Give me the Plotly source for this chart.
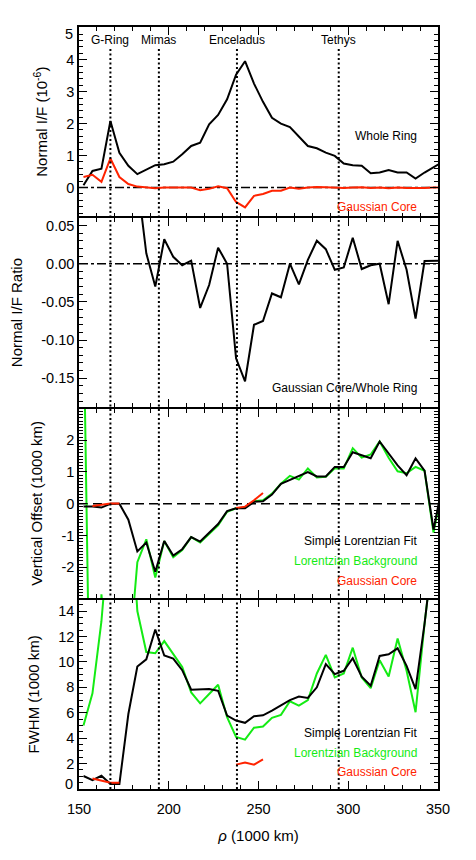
import plotly.graph_objects as go
from plotly.subplots import make_subplots

# radial distance (1000 km)
rho = [152.5, 157.5, 162.5, 167.5, 172.5, 177.5, 182.5, 187.5, 192.5, 197.5,
       202.5, 207.5, 212.5, 217.5, 222.5, 227.5, 232.5, 237.5, 242.5, 247.5,
       252.5, 257.5, 262.5, 267.5, 272.5, 277.5, 282.5, 287.5, 292.5, 297.5,
       302.5, 307.5, 312.5, 317.5, 322.5, 327.5, 332.5, 337.5, 342.5, 347.5,
       352.5]

# panel 1: normal I/F (1e-6)
whole_ring = [0.07, 0.52, 0.59, 2.08, 1.09, 0.68, 0.42, 0.57, 0.70, 0.73,
              0.81, 1.04, 1.30, 1.40, 1.98, 2.27, 2.76, 3.53, 3.95, 3.25,
              2.68, 2.18, 2.00, 1.89, 1.61, 1.30, 1.23, 1.09, 0.99, 0.75,
              0.70, 0.68, 0.45, 0.47, 0.55, 0.47, 0.47, 0.28, 0.47, 0.65,
              0.80]
gauss_core = [0.33, 0.40, 0.18, 0.91, 0.33, 0.11, 0.03, 0.00, -0.02, 0.00,
              0.00, 0.00, 0.00, -0.08, -0.04, 0.04, -0.02, -0.45, -0.62, -0.26,
              -0.20, -0.10, -0.10, 0.00, -0.04, 0.00, 0.02, 0.01, -0.01, -0.01,
              0.00, 0.01, -0.01, 0.00, -0.02, 0.00, -0.01, -0.02, -0.01, 0.00,
              0.00]

# panel 2: core / whole ring
ratio = [4.7, 0.77, 0.31, 0.44, 0.30, 0.16, 0.11, 0.0135, -0.030, 0.032,
         0.009, -0.002, 0.004, -0.058, -0.028, 0.021, 0.000, -0.124, -0.154, -0.080,
         -0.075, -0.039, -0.044, 0.000, -0.027, 0.005, 0.030, 0.019, -0.008, -0.005,
         0.034, -0.007, -0.002, 0.000, -0.053, 0.030, -0.008, -0.072, 0.0035, 0.004,
         0.004]

# panel 3: vertical offset (1000 km)
offset_simple = [-0.09, -0.09, -0.12, 0.00, 0.00, -0.50, -1.50, -1.22, -2.14, -1.17,
                 -1.63, -1.43, -1.05, -1.19, -0.91, -0.64, -0.23, -0.14, -0.14, 0.06,
                 0.08, 0.29, 0.63, 0.76, 0.88, 1.00, 0.86, 0.86, 1.16, 1.16,
                 1.62, 1.52, 1.43, 1.96, 1.57, 1.21, 0.90, 1.43, 1.04, -0.81,
                 0.60]
offset_bg = [6.0, -12.0, -2.85, -8.0, -10.0, -5.2, -1.84, -1.12, -2.32, -1.17,
             -1.68, -1.46, -1.05, -1.22, -0.94, -0.68, -0.25, -0.14, -0.12, 0.08,
             0.11, 0.32, 0.63, 0.88, 0.76, 1.11, 0.83, 0.85, 1.12, 1.11,
             1.75, 1.45, 1.55, 1.96, 1.45, 1.02, 0.96, 1.16, 1.04, -0.91,
             0.50]
offset_core = [None, -0.07, -0.04, 0.01, 0.01, None, None, None, None, None,
               None, None, None, None, None, None, None, -0.13, -0.09, 0.11,
               0.34, None, None, None, None, None, None, None, None, None,
               None, None, None, None, None, None, None, None, None, None,
               None]

# panel 4: FWHM (1000 km)
fwhm_simple = [1.02, 0.70, 1.04, 0.39, 0.39, 5.90, 9.64, 10.20, 12.55, 10.50,
               10.26, 9.35, 7.81, 7.81, 7.86, 7.73, 5.78, 5.39, 5.21, 5.72,
               5.80, 6.17, 6.56, 7.00, 7.27, 7.16, 8.00, 9.82, 9.04, 9.30,
               10.29, 8.83, 8.13, 10.47, 10.60, 11.07, 9.69, 7.86, 13.0, 19.0,
               25.0]
fwhm_bg = [5.00, 7.53, 13.2, 22.0, 30.0, 25.0, 14.0, 10.78, 10.68, 11.64,
           10.60, 9.60, 7.60, 6.74, 7.47, 8.20, 5.65, 4.09, 3.88, 4.82,
           4.92, 5.60, 5.83, 6.90, 6.56, 7.00, 9.09, 10.55, 8.78, 9.09,
           11.12, 8.78, 7.94, 10.13, 8.85, 11.85, 9.30, 6.04, 13.0, 19.0,
           25.0]
fwhm_core = [None, 0.82, 0.68, 0.50, 0.50, None, None, None, None, None,
             None, None, None, None, None, None, None, 1.92, 2.08, 1.92,
             2.33, None, None, None, None, None, None, None, None, None,
             None, None, None, None, None, None, None, None, None, None,
             None]

moon_names = ["G-Ring", "Mimas", "Enceladus", "Tethys"]
moon_rho = [167.5, 194.5, 238.0, 294.7]

BLACK = "black"
RED = "rgb(255,35,0)"
GREEN = "rgb(20,235,20)"
FONT = "Liberation Sans, Arial, Helvetica, sans-serif"
TICK = 14.5

fig = make_subplots(rows=4, cols=1, shared_xaxes=True, vertical_spacing=0.002)


def line(y, color, row):
    fig.add_trace(go.Scatter(x=rho, y=y, mode="lines", connectgaps=False,
                             line=dict(color=color, width=2), showlegend=False,
                             hoverinfo="skip"), row=row, col=1)


line(whole_ring, BLACK, 1)
line(gauss_core, RED, 1)
line(ratio, BLACK, 2)
line(offset_bg, GREEN, 3)
line(offset_simple, BLACK, 3)
line(offset_core, RED, 3)
line(fwhm_bg, GREEN, 4)
line(fwhm_simple, BLACK, 4)
line(fwhm_core, RED, 4)

common = dict(showline=True, linecolor="black", linewidth=1.5, mirror="allticks",
              ticks="inside", ticklen=8, tickwidth=1, tickcolor="black",
              showgrid=False, zeroline=False, automargin=False,
              tickfont=dict(family=FONT, size=TICK, color="black"))

for r in range(1, 5):
    fig.update_xaxes(range=[150, 350], tickvals=[150, 200, 250, 300, 350],
                     minor=dict(ticks="inside", ticklen=4, dtick=10, tick0=150,
                                tickcolor="black", showgrid=False),
                     row=r, col=1, **common)
fig.update_xaxes(showticklabels=True, ticklabelstandoff=6, row=4, col=1,
                 title=dict(text="<i>ρ</i> (1000 km)", font=dict(family=FONT, size=15, color="black"),
                            standoff=14))

title_font = dict(family=FONT, size=15, color="black")
fig.update_yaxes(range=[-0.9, 5.02], tickvals=[0, 1, 2, 3, 4],
                 minor=dict(ticks="inside", ticklen=4, dtick=0.2, tick0=0, tickcolor="black"),
                 title=dict(text="Normal I/F (10<sup>-6</sup>)", font=title_font),
                 row=1, col=1, **common)
fig.update_yaxes(range=[-0.188, 0.060], tickvals=[-0.15, -0.10, -0.05, 0.0, 0.05],
                 ticktext=["-0.15", "-0.10", "-0.05", "0.00", "0.05"],
                 minor=dict(ticks="inside", ticklen=4, dtick=0.01, tick0=0, tickcolor="black"),
                 title=dict(text="Normal I/F Ratio", font=title_font),
                 row=2, col=1, **common)
fig.update_yaxes(range=[-2.97, 2.99], tickvals=[-2, -1, 0, 1, 2],
                 ticktext=["-2", "-1", "0", "1", "2"],
                 minor=dict(ticks="inside", ticklen=4, dtick=0.1, tick0=0, tickcolor="black"),
                 title=dict(text="Vertical Offset (1000 km)", font=title_font),
                 row=3, col=1, **common)
fig.update_yaxes(range=[0, 14.9], tickvals=[2, 4, 6, 8, 10, 12, 14],
                 minor=dict(ticks="inside", ticklen=4, dtick=0.5, tick0=0, tickcolor="black"),
                 title=dict(text="FWHM (1000 km)", font=title_font),
                 row=4, col=1, **common)

shapes = []
for m in moon_rho:
    shapes.append(dict(type="line", xref="x", yref="paper", x0=m, x1=m, y0=0, y1=0.974,
                       line=dict(color="black", width=2, dash="2px,2.5px")))
shapes.append(dict(type="line", xref="x", yref="y", x0=150, x1=350, y0=0, y1=0,
                   line=dict(color="black", width=1.5, dash="dashdot"), layer="below"))
shapes.append(dict(type="line", xref="x", yref="y2", x0=150, x1=350, y0=0, y1=0,
                   line=dict(color="black", width=1.5, dash="dashdot"), layer="below"))
shapes.append(dict(type="line", xref="x", yref="y3", x0=150, x1=350, y0=0, y1=0,
                   line=dict(color="black", width=1.5, dash="9px,5px"), layer="below"))

ann = []
for name, m in zip(moon_names, moon_rho):
    ann.append(dict(text=name, x=m, xref="x", y=0.983, yref="paper", yanchor="middle",
                    showarrow=False, font=dict(family=FONT, size=12, color="black")))

labels = [("Whole Ring", BLACK, 0.857), ("Gaussian Core", RED, 0.764),
          ("Gaussian Core/Whole Ring", BLACK, 0.526),
          ("Simple Lorentzian Fit", BLACK, 0.325), ("Lorentzian Background", GREEN, 0.299),
          ("Gaussian Core", RED, 0.273),
          ("Simple Lorentzian Fit", BLACK, 0.073), ("Lorentzian Background", GREEN, 0.047),
          ("Gaussian Core", RED, 0.022)]
for text, color, yy in labels:
    ann.append(dict(text=text, x=0.947, xref="paper", xanchor="right", y=yy, yref="paper",
                    yanchor="middle", showarrow=False,
                    font=dict(family=FONT, size=12, color=color)))

# edge tick labels nudged inside the panels, as in the original
ann.append(dict(text="5", x=-0.01, xref="paper", xanchor="right", y=0.991, yref="paper",
                yanchor="middle", showarrow=False, font=dict(family=FONT, size=TICK, color="black")))
ann.append(dict(text="0", x=-0.01, xref="paper", xanchor="right", y=0.007, yref="paper",
                yanchor="middle", showarrow=False, font=dict(family=FONT, size=TICK, color="black")))

# page body keeps an 8px margin, so the figure is sized to fit inside the window
fig.update_layout(width=460, height=844, margin=dict(l=71, r=30, t=19, b=63),
                  plot_bgcolor="white", paper_bgcolor="white",
                  font=dict(family=FONT, color="black"),
                  shapes=shapes, annotations=ann, showlegend=False)

fig.write_html("out.html")
